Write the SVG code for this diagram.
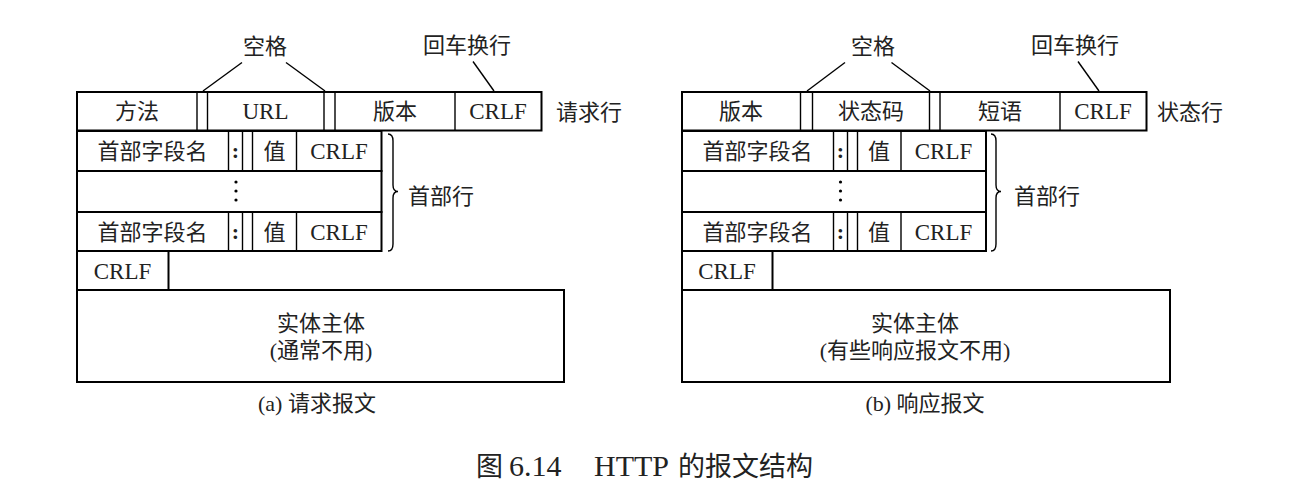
<svg xmlns="http://www.w3.org/2000/svg" width="1297" height="491" viewBox="0 0 1297 491">
<style>
text{font-family:"Liberation Serif","Noto Sans CJK SC",serif;font-size:22px;fill:#222;text-anchor:middle}
.lat{font-size:23px}
.row{fill:none;stroke:#000;stroke-width:2}
.div{stroke:#000;stroke-width:1.4}
.lead{stroke:#000;stroke-width:1.4;fill:none}
.dot{fill:#000}
.lbl{text-anchor:start}
.col{font-weight:bold}
</style>
<rect width="1297" height="491" fill="#fff"/>

<!-- ===== (a) request ===== -->
<g id="req-line">
  <rect class="row" x="77" y="92" width="464.5" height="38.5"/>
  <line class="div" x1="197" y1="92" x2="197" y2="130.5"/>
  <line class="div" x1="207.5" y1="92" x2="207.5" y2="130.5"/>
  <line class="div" x1="324" y1="92" x2="324" y2="130.5"/>
  <line class="div" x1="335" y1="92" x2="335" y2="130.5"/>
  <line class="div" x1="455" y1="92" x2="455" y2="130.5"/>
  <text x="137" y="119">方法</text>
  <text class="lat" x="265.5" y="119">URL</text>
  <text x="395" y="119">版本</text>
  <text class="lat" x="498" y="119">CRLF</text>
</g>
<g id="req-header1">
  <rect class="row" x="77" y="131" width="304.5" height="40"/>
  <line class="div" x1="228.5" y1="131" x2="228.5" y2="171"/>
  <line class="div" x1="242.5" y1="131" x2="242.5" y2="171"/>
  <line class="div" x1="252.5" y1="131" x2="252.5" y2="171"/>
  <line class="div" x1="296.5" y1="131" x2="296.5" y2="171"/>
  <text x="152.5" y="159">首部字段名</text>
  <text class="col" x="235.5" y="158">:</text>
  <text x="274.5" y="159">值</text>
  <text class="lat" x="339" y="159">CRLF</text>
</g>
<g id="req-header-dots">
  <rect class="row" x="77" y="171" width="304.5" height="41"/>
  <circle class="dot" cx="236" cy="182" r="1.6"/>
  <circle class="dot" cx="236" cy="191" r="1.6"/>
  <circle class="dot" cx="236" cy="200" r="1.6"/>
</g>
<g id="req-header2">
  <rect class="row" x="77" y="212" width="304.5" height="39"/>
  <line class="div" x1="228.5" y1="212" x2="228.5" y2="251"/>
  <line class="div" x1="242.5" y1="212" x2="242.5" y2="251"/>
  <line class="div" x1="252.5" y1="212" x2="252.5" y2="251"/>
  <line class="div" x1="296.5" y1="212" x2="296.5" y2="251"/>
  <text x="152.5" y="239.5">首部字段名</text>
  <text class="col" x="235.5" y="238.5">:</text>
  <text x="274.5" y="239.5">值</text>
  <text class="lat" x="339" y="239.5">CRLF</text>
</g>
<g id="req-crlf">
  <rect class="row" x="77" y="251" width="91.5" height="39"/>
  <text class="lat" x="122.5" y="278.5">CRLF</text>
</g>
<g id="req-body">
  <rect class="row" x="77" y="290" width="487" height="92"/>
  <text x="321" y="331">实体主体</text>
  <text x="321" y="358">(通常不用)</text>
</g>
<g id="req-labels">
  <text x="265" y="54">空格</text>
  <text x="467" y="53">回车换行</text>
  <text class="lbl" x="556" y="119.5">请求行</text>
  <text class="lbl" x="408" y="204">首部行</text>
  <text x="317" y="411">(a) 请求报文</text>
</g>

<!-- ===== (b) response ===== -->
<g id="resp-line">
  <rect class="row" x="682" y="92" width="464.5" height="38.5"/>
  <line class="div" x1="800.5" y1="92" x2="800.5" y2="130.5"/>
  <line class="div" x1="812.5" y1="92" x2="812.5" y2="130.5"/>
  <line class="div" x1="929.5" y1="92" x2="929.5" y2="130.5"/>
  <line class="div" x1="940" y1="92" x2="940" y2="130.5"/>
  <line class="div" x1="1060" y1="92" x2="1060" y2="130.5"/>
  <text x="741" y="119">版本</text>
  <text x="871" y="119">状态码</text>
  <text x="1000" y="119">短语</text>
  <text class="lat" x="1103" y="119">CRLF</text>
</g>
<g id="resp-header1">
  <rect class="row" x="682" y="131" width="304" height="40"/>
  <line class="div" x1="833.5" y1="131" x2="833.5" y2="171"/>
  <line class="div" x1="847.5" y1="131" x2="847.5" y2="171"/>
  <line class="div" x1="857.5" y1="131" x2="857.5" y2="171"/>
  <line class="div" x1="901" y1="131" x2="901" y2="171"/>
  <text x="757.5" y="159">首部字段名</text>
  <text class="col" x="840.5" y="158">:</text>
  <text x="879" y="159">值</text>
  <text class="lat" x="943.5" y="159">CRLF</text>
</g>
<g id="resp-header-dots">
  <rect class="row" x="682" y="171" width="304" height="41"/>
  <circle class="dot" cx="840.5" cy="182" r="1.6"/>
  <circle class="dot" cx="840.5" cy="191" r="1.6"/>
  <circle class="dot" cx="840.5" cy="200" r="1.6"/>
</g>
<g id="resp-header2">
  <rect class="row" x="682" y="212" width="304" height="39"/>
  <line class="div" x1="833.5" y1="212" x2="833.5" y2="251"/>
  <line class="div" x1="847.5" y1="212" x2="847.5" y2="251"/>
  <line class="div" x1="857.5" y1="212" x2="857.5" y2="251"/>
  <line class="div" x1="901" y1="212" x2="901" y2="251"/>
  <text x="757.5" y="239.5">首部字段名</text>
  <text class="col" x="840.5" y="238.5">:</text>
  <text x="879" y="239.5">值</text>
  <text class="lat" x="943.5" y="239.5">CRLF</text>
</g>
<g id="resp-crlf">
  <rect class="row" x="682" y="251" width="90.5" height="39"/>
  <text class="lat" x="727" y="278.5">CRLF</text>
</g>
<g id="resp-body">
  <rect class="row" x="682" y="290" width="488" height="92"/>
  <text x="915" y="331">实体主体</text>
  <text x="915" y="358">(有些响应报文不用)</text>
</g>
<g id="resp-labels">
  <text x="873" y="54">空格</text>
  <text x="1075" y="53">回车换行</text>
  <text class="lbl" x="1157" y="119.5">状态行</text>
  <text class="lbl" x="1014" y="204">首部行</text>
  <text x="925" y="411">(b) 响应报文</text>
</g>

<!-- ===== connectors: leader lines and braces ===== -->
<g id="connectors">
  <line class="lead" x1="242" y1="62.5" x2="203" y2="91"/>
  <line class="lead" x1="286" y1="62.5" x2="325" y2="91"/>
  <line class="lead" x1="473" y1="61.5" x2="494" y2="91"/>
  <path class="lead" d="M388,134 Q393,134 393,141 L393,185 Q393,191.5 398,191.5 Q393,191.5 393,198 L393,244 Q393,251 388,251"/>
  <line class="lead" x1="845" y1="62.5" x2="807" y2="91"/>
  <line class="lead" x1="891.5" y1="62.5" x2="930" y2="91"/>
  <line class="lead" x1="1078" y1="61.5" x2="1099" y2="91"/>
  <path class="lead" d="M991,134 Q996,134 996,141 L996,185 Q996,191.5 1001,191.5 Q996,191.5 996,198 L996,244 Q996,251 991,251"/>
</g>

<g id="title">
  <text style="font-size:27px;text-anchor:start" y="476"><tspan x="476">图</tspan><tspan x="509" style="font-size:30px">6.14</tspan><tspan x="594" style="font-size:30px">HTTP</tspan><tspan x="678">的报文结构</tspan></text>
</g>
</svg>
